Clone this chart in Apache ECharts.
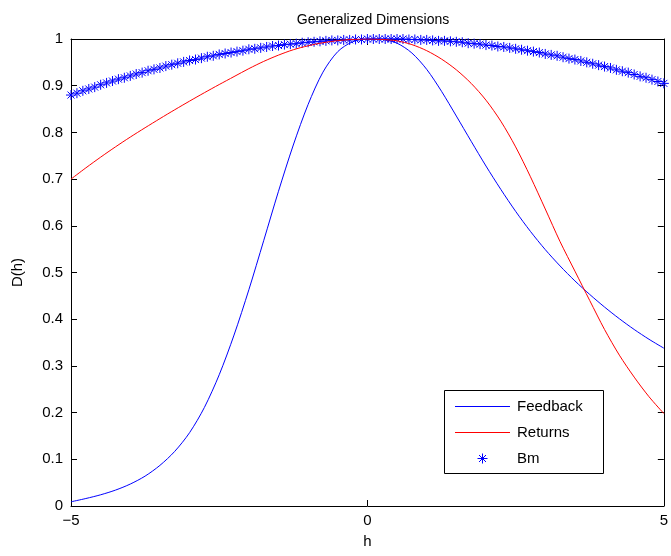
<!DOCTYPE html>
<html>
<head>
<meta charset="utf-8">
<script src="https://cdn.jsdelivr.net/npm/echarts@6/dist/echarts.min.js"></script>
<style>
html,body{margin:0;padding:0;background:#fff;}
#chart{width:671px;height:556px;}
</style>
</head>
<body>
<div id="chart"></div>
<script>
// ---- data ----
const hLine = [-5,-4.75,-4.5,-4.25,-4,-3.75,-3.5,-3.25,-3,-2.75,-2.5,-2.25,-2,-1.75,-1.5,-1.25,-1,-0.75,-0.5,-0.25,0,
  0.25,0.5,0.75,1,1.25,1.5,1.75,2,2.25,2.5,2.75,3,3.25,3.5,3.75,4,4.25,4.5,4.75,5];
const feedback = [0.009,0.016,0.024,0.034,0.047,0.064,0.087,0.117,0.157,0.211,0.281,0.366,0.463,0.568,0.674,0.773,0.860,0.929,0.973,0.994,1.000,
  0.999,0.991,0.970,0.935,0.888,0.835,0.781,0.728,0.678,0.631,0.588,0.549,0.514,0.482,0.453,0.426,0.401,0.378,0.357,0.338];
const returns = [0.700,0.724,0.747,0.769,0.790,0.810,0.8295,0.8485,0.867,0.885,0.9025,0.9195,0.9365,0.952,0.9655,0.977,0.9855,0.992,0.9965,0.999,1.000,
  0.999,0.996,0.988,0.975,0.957,0.934,0.905,0.869,0.824,0.769,0.705,0.636,0.566,0.503,0.440,0.378,0.323,0.276,0.234,0.198];
const hBm = [-5,-4.9,-4.8,-4.7,-4.6,-4.5,-4.4,-4.3,-4.2,-4.1,-4,-3.9,-3.8,-3.7,-3.6,-3.5,-3.4,-3.3,-3.2,-3.1,
  -3,-2.9,-2.8,-2.7,-2.6,-2.5,-2.4,-2.3,-2.2,-2.1,-2,-1.9,-1.8,-1.7,-1.6,-1.5,-1.4,-1.3,-1.2,-1.1,
  -1,-0.9,-0.8,-0.7,-0.6,-0.5,-0.4,-0.3,-0.2,-0.1,0,0.1,0.2,0.3,0.4,0.5,0.6,0.7,0.8,0.9,
  1,1.1,1.2,1.3,1.4,1.5,1.6,1.7,1.8,1.9,2,2.1,2.2,2.3,2.4,2.5,2.6,2.7,2.8,2.9,
  3,3.1,3.2,3.3,3.4,3.5,3.6,3.7,3.8,3.9,4,4.1,4.2,4.3,4.4,4.5,4.6,4.7,4.8,4.9,5];
const bm = [0.880,0.884,0.889,0.893,0.897,0.902,0.906,0.910,0.914,0.917,
  0.921,0.925,0.928,0.932,0.935,0.938,0.942,0.945,0.948,0.951,
  0.954,0.956,0.959,0.962,0.964,0.967,0.969,0.971,0.973,0.975,
  0.978,0.979,0.981,0.983,0.985,0.986,0.988,0.989,0.990,0.992,
  0.993,0.994,0.995,0.996,0.997,0.997,0.998,0.998,0.999,0.999,
  1.000,1.000,1.000,1.000,1.000,1.000,1.000,0.999,0.999,0.998,
  0.998,0.997,0.996,0.996,0.995,0.994,0.993,0.991,0.990,0.989,
  0.987,0.986,0.984,0.983,0.981,0.979,0.977,0.975,0.973,0.971,
  0.968,0.966,0.964,0.961,0.958,0.956,0.953,0.950,0.947,0.944,
  0.941,0.938,0.934,0.931,0.928,0.924,0.920,0.917,0.913,0.909,0.905];
const xTickLabels = {'-5':'\u22125','0':'0','5':'5'};
const yTickLabels = ['0','0.1','0.2','0.3','0.4','0.5','0.6','0.7','0.8','0.9','1'];
const seriesNames = ['Feedback','Returns','Bm'];
const seriesColors = ['#0000ff', '#ff0000', '#0000ff'];

const FONT = 'Liberation Sans, Arial, Helvetica, sans-serif';
const asterisk = 'path://M5,0L5,10M0,5L10,5M1.5,1.5L8.5,8.5M1.5,8.5L8.5,1.5';

const zip = (xs, ys) => xs.map((x, i) => [x, ys[i]]);

const axisCommon = {
  type: 'value',
  axisLine: {show: true, onZero: false, lineStyle: {color: '#000', width: 1}},
  axisTick: {show: true, inside: true, length: 6, lineStyle: {color: '#000', width: 1}},
  splitLine: {show: false}
};

// ---- hand-drawn legend box (MATLAB style) ----
const LX = 444, LY = 390, LW = 159, LH = 83;
const rowY = [406, 432, 458];
const legendEls = [
  {type: 'rect', shape: {x: LX + 0.5, y: LY + 0.5, width: LW, height: LH},
   style: {fill: '#fff', stroke: '#000', lineWidth: 1}, z: 100}
];
seriesNames.forEach((name, i) => {
  const cy = rowY[i];
  if (i < 2) {
    legendEls.push({type: 'line', shape: {x1: 455, y1: cy + 0.5, x2: 510, y2: cy + 0.5},
      style: {stroke: seriesColors[i], lineWidth: 1}, z: 101});
  } else {
    const cx = 482.5, r = 5, d = 3.5;
    [[0, -r, 0, r], [-r, 0, r, 0], [-d, -d, d, d], [-d, d, d, -d]].forEach(s => {
      legendEls.push({type: 'line', shape: {x1: cx + s[0], y1: cy + 0.5 + s[1], x2: cx + s[2], y2: cy + 0.5 + s[3]},
        style: {stroke: seriesColors[i], lineWidth: 1}, z: 101});
    });
  }
  legendEls.push({type: 'text', x: 517, y: cy + 1,
    style: {text: name, fill: '#000', font: '15px ' + FONT, textAlign: 'left', textVerticalAlign: 'middle'}, z: 101});
});

const chart = echarts.init(document.getElementById('chart'), null, {renderer: 'canvas'});
chart.setOption({
  backgroundColor: '#fff',
  animation: false,
  color: seriesColors,
  title: {
    text: 'Generalized Dimensions',
    left: 368, top: 8, textAlign: 'center',
    textStyle: {fontFamily: FONT, fontSize: 14, fontWeight: 'normal', color: '#000'}
  },
  grid: {left: 71, right: 6, top: 39, bottom: 50},
  xAxis: [
    Object.assign({}, axisCommon, {
      min: -5, max: 5, interval: 5, position: 'bottom',
      name: 'h', nameLocation: 'middle', nameGap: 28,
      nameTextStyle: {fontFamily: FONT, fontSize: 15, color: '#000'},
      axisLabel: {show: true, margin: 7, fontFamily: FONT, fontSize: 15, color: '#000',
        formatter: v => xTickLabels[String(v)] ?? String(v)}
    }),
    Object.assign({}, axisCommon, {
      min: -5, max: 5, interval: 5, position: 'top', axisLabel: {show: false}
    })
  ],
  yAxis: [
    Object.assign({}, axisCommon, {
      min: 0, max: 1, interval: 0.1, position: 'left',
      name: 'D(h)', nameLocation: 'middle', nameGap: 46, nameRotate: 90,
      nameTextStyle: {fontFamily: FONT, fontSize: 15, color: '#000'},
      axisLabel: {show: true, margin: 8, fontFamily: FONT, fontSize: 15, color: '#000',
        formatter: v => yTickLabels[Math.round(v * 10)]}
    }),
    Object.assign({}, axisCommon, {
      min: 0, max: 1, interval: 0.1, position: 'right', axisLabel: {show: false}
    })
  ],
  graphic: {elements: legendEls},
  series: [
    {
      name: seriesNames[0], type: 'line', xAxisIndex: 0, yAxisIndex: 0,
      data: zip(hLine, feedback), symbol: 'none', smooth: 0.3,
      lineStyle: {color: seriesColors[0], width: 1}, itemStyle: {color: seriesColors[0]}
    },
    {
      name: seriesNames[1], type: 'line', xAxisIndex: 0, yAxisIndex: 0,
      data: zip(hLine, returns), symbol: 'none', smooth: 0.3,
      lineStyle: {color: seriesColors[1], width: 1}, itemStyle: {color: seriesColors[1]}
    },
    {
      name: seriesNames[2], type: 'scatter', xAxisIndex: 0, yAxisIndex: 0,
      data: zip(hBm, bm), symbol: asterisk, symbolSize: 10, clip: false,
      itemStyle: {color: seriesColors[2], borderColor: seriesColors[2], borderWidth: 1, opacity: 1}
    }
  ]
});
</script>
</body>
</html>
